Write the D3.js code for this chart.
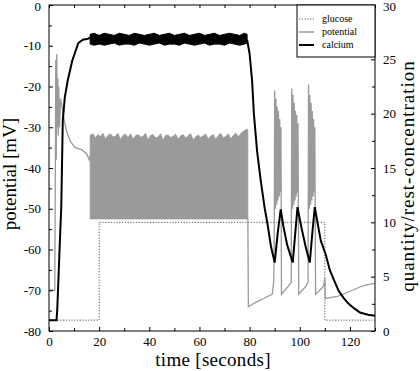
<!DOCTYPE html>
<html>
<head>
<meta charset="utf-8">
<script src="https://cdn.jsdelivr.net/npm/d3@7"></script>
<style>
  body { margin: 0; background: #fff; }
  svg text { font-family: "Liberation Serif", "DejaVu Serif", serif; fill: #000; }
</style>
</head>
<body>
<div id="chart"></div>
<script>
// axis ticks
var xTicks = [0, 20, 40, 60, 80, 100, 120];
var xMinor = [10, 30, 50, 70, 90, 110, 130];
var leftTicks = [0, -10, -20, -30, -40, -50, -60, -70, -80];
var leftMinor = [-5, -15, -25, -35, -45, -55, -65, -75];
var rightTicks = [0, 5, 10, 15, 20, 25, 30];
var rightMinor = [2.5, 7.5, 12.5, 17.5, 22.5, 27.5];

// glucose [t, quantity]
var glucose = [[0, 1], [20, 1], [20, 10], [110, 10], [110, 1], [130, 1]];

// calcium [t, quantity]
var calciumRise = [[0, 1], [3.0, 1], [3.3, 2], [3.8, 5], [4.3, 8], [4.9, 11.5], [5.5, 19.4], [6.3, 21.5],
  [7.5, 23.1], [9.3, 24.9], [11.7, 26.5], [13.5, 26.8], [15.5, 26.9], [16.4, 27]];
// calcium oscillation band [t, low, high]
var calciumBand = [[16.4, 26.4, 27.3], [18, 26.3, 27.4], [20, 26.4, 27.2], [22, 26.3, 27.4], [24, 26.4, 27.3],
  [26, 26.5, 27.2], [28, 26.3, 27.4], [30, 26.4, 27.3], [32, 26.4, 27.2], [34, 26.3, 27.4], [36, 26.5, 27.3],
  [38, 26.4, 27.2], [40, 26.3, 27.3], [42, 26.4, 27.4], [44, 26.5, 27.2], [46, 26.3, 27.3], [48, 26.4, 27.4],
  [50, 26.4, 27.2], [52, 26.3, 27.3], [54, 26.5, 27.4], [56, 26.4, 27.2], [58, 26.3, 27.3], [60, 26.4, 27.4],
  [62, 26.5, 27.2], [64, 26.3, 27.3], [66, 26.4, 27.4], [68, 26.4, 27.2], [70, 26.3, 27.3], [72, 26.5, 27.4],
  [74, 26.4, 27.3], [76, 26.3, 27.2], [78, 26.4, 27.4], [79, 26.5, 27.3]];
var calciumFall = [[79, 26.8], [80, 25.5], [81, 23], [81.7, 20], [83, 16.5], [84.4, 13.9], [86, 11.3], [87.1, 9.9],
  [88.5, 7.8], [90, 6.3], [91.2, 9], [92.4, 11.2], [93.5, 9.6], [95, 7.9], [97.2, 6.3], [98.2, 9], [99.1, 11.4],
  [100.5, 9.7], [102.3, 7.8], [104, 6.3], [105, 9], [106, 11.4], [107.2, 9.8], [108.4, 8.3], [110.4, 7.0],
  [112, 5.6], [113.6, 4.7], [115.5, 3.7], [117.6, 3.0], [119.5, 2.5], [121.6, 2.1], [124, 1.7], [127.2, 1.5], [130, 1.4]];

// potential [t, mV]
var potentialStart = [[0, -70], [2.3, -70], [2.5, -45], [2.7, -13.5], [2.9, -38], [3.1, -12], [3.3, -30], [3.5, -18],
  [3.7, -32], [3.9, -20], [4.2, -30], [4.6, -23], [5.2, -25], [6, -28], [7, -31], [8.5, -33.5], [10.5, -35],
  [13, -35.5], [15, -36.5], [16, -38], [16.4, -37]];
// potential spiking band: bottom and jagged top [t, top]
var potentialBandLow = -52.5;
var potentialBandTop = [[16.4, -32], [17.5, -31.6], [18.5, -32.6], [19.5, -31.8], [20.5, -32.3], [21.5, -31.5],
  [22.5, -32.8], [23.5, -32], [24.5, -31.6], [25.5, -32.4], [26.5, -32.2], [27.5, -31.5], [28.5, -33], [29.5, -32],
  [30.5, -31.7], [31.5, -32.5], [32.5, -31.6], [33.5, -32.9], [34.5, -32.1], [35.5, -31.8], [36.5, -32.4],
  [37.5, -32.3], [38.5, -31.5], [39.5, -33.1], [40.5, -32], [41.5, -31.8], [42.5, -32.6], [43.5, -32.4],
  [44.5, -31.6], [45.5, -33.2], [46.5, -32], [47.5, -31.9], [48.5, -32.5], [49.5, -32.2], [50.5, -31.7],
  [51.5, -32.9], [52.5, -32.1], [53.5, -31.8], [54.5, -32.7], [55.5, -32], [56.5, -31.6], [57.5, -33.1],
  [58.5, -32.3], [59.5, -31.9], [60.5, -32.5], [61.5, -32.1], [62.5, -31.7], [63.5, -32.8], [64.5, -32.2],
  [65.5, -31.8], [66.5, -33], [67.5, -32], [68.5, -31.5], [69.5, -32.6], [70.5, -32.3], [71.5, -31.6],
  [72.5, -32.9], [73.5, -32], [74.5, -31.4], [75.5, -32.4], [76.5, -31.5], [77.5, -31], [78.5, -30.6], [79.3, -30.5]];
var potentialEnd = [[79.3, -52.5], [79.5, -74], [81, -73.5], [83, -72.8], [85, -72.2], [87, -71.6], [89, -71],
  [89.6, -68], [89.8, -60], [90.0, -21], [90.3, -50], [90.5, -23], [90.8, -49], [91.0, -25], [91.3, -48],
  [91.5, -26], [91.8, -47], [92.0, -28], [92.3, -46], [92.5, -30], [92.7, -71], [94, -70], [95.5, -69],
  [96.6, -68], [96.8, -20.5], [97.1, -50], [97.3, -22], [97.6, -49], [97.8, -24], [98.1, -48], [98.3, -26],
  [98.6, -47], [98.8, -27], [99.1, -46], [99.3, -29], [99.6, -71], [101, -70], [102.5, -69], [103.3, -68],
  [103.5, -19.5], [103.8, -50], [104.0, -22], [104.3, -49], [104.5, -24], [104.8, -48], [105.0, -26],
  [105.3, -47], [105.5, -28], [105.8, -46], [106.0, -30], [106.3, -71], [108, -70], [109.5, -69], [110, -67],
  [110.2, -72], [112, -71.8], [115, -71.5], [118, -70.8], [121, -70], [124, -69.2], [127, -68.6], [130, -68.3]];

var legendItems = ["glucose", "potential", "calcium"];

var W = 420, H = 371;
var svg = d3.select('#chart').append('svg').attr('width', W).attr('height', H);

var x = d3.scaleLinear().domain([0, 130]).range([49, 375]);
var yL = d3.scaleLinear().domain([-80, 0]).range([331, 5]);
var yR = d3.scaleLinear().domain([0, 30]).range([331, 5]);

var plot = svg.append('g');

// glucose dotted
plot.append('path')
  .datum(glucose)
  .attr('d', d3.line().x(function(d){ return x(d[0]); }).y(function(d){ return yR(d[1]); }))
  .attr('fill', 'none').attr('stroke', '#555').attr('stroke-width', 1).attr('stroke-dasharray', '1.2,1.6');

// potential
var lineL = d3.line().x(function(d){ return x(d[0]); }).y(function(d){ return yL(d[1]); });
plot.append('path').datum(potentialStart).attr('d', lineL)
  .attr('fill', 'none').attr('stroke', '#9a9a9a').attr('stroke-width', 1.3);
plot.append('path').datum(potentialBandTop)
  .attr('d', d3.area().x(function(d){ return x(d[0]); }).y0(yL(potentialBandLow)).y1(function(d){ return yL(d[1]); }))
  .attr('fill', '#9a9a9a').attr('stroke', '#9a9a9a').attr('stroke-width', 0.8);
plot.append('path').datum(potentialEnd).attr('d', lineL)
  .attr('fill', 'none').attr('stroke', '#9a9a9a').attr('stroke-width', 1.3);

// calcium
var lineR = d3.line().x(function(d){ return x(d[0]); }).y(function(d){ return yR(d[1]); });
plot.append('path').datum(calciumRise).attr('d', lineR)
  .attr('fill', 'none').attr('stroke', '#000').attr('stroke-width', 2);
plot.append('path').datum(calciumBand)
  .attr('d', d3.area().x(function(d){ return x(d[0]); }).y0(function(d){ return yR(d[1]); }).y1(function(d){ return yR(d[2]); }))
  .attr('fill', '#000').attr('stroke', '#000').attr('stroke-width', 1);
plot.append('path').datum(calciumFall).attr('d', lineR)
  .attr('fill', 'none').attr('stroke', '#000').attr('stroke-width', 2);

// axes, ticks inward
function styleAxis(g){
  g.select('.domain').remove();
  g.selectAll('text').attr('font-family', '"Liberation Serif", serif').attr('font-size', 13);
  g.selectAll('line').attr('stroke', '#000');
}
svg.append('g').attr('transform', 'translate(0,331)')
  .call(d3.axisBottom(x).tickValues(xTicks).tickSize(-4).tickPadding(6).tickFormat(d3.format('d'))).call(styleAxis);
svg.append('g').attr('transform', 'translate(0,331)')
  .call(d3.axisBottom(x).tickValues(xMinor).tickSize(-3).tickFormat('')).call(styleAxis);
svg.append('g').attr('transform', 'translate(0,5)')
  .call(d3.axisTop(x).tickValues(xTicks.concat(xMinor)).tickSize(-3).tickFormat('')).call(styleAxis);
var gLeft = svg.append('g').attr('transform', 'translate(49,0)')
  .call(d3.axisLeft(yL).tickValues(leftTicks).tickSize(-4).tickPadding(8).tickFormat(function(d){ return String(d); })).call(styleAxis);
svg.append('g').attr('transform', 'translate(49,0)')
  .call(d3.axisLeft(yL).tickValues(leftMinor).tickSize(-3).tickFormat('')).call(styleAxis);
var gRight = svg.append('g').attr('transform', 'translate(375,0)')
  .call(d3.axisRight(yR).tickValues(rightTicks).tickSize(-4).tickPadding(8).tickFormat(d3.format('d'))).call(styleAxis);
svg.append('g').attr('transform', 'translate(375,0)')
  .call(d3.axisRight(yR).tickValues(rightMinor).tickSize(-3).tickFormat('')).call(styleAxis);

// keep the top labels inside the window
gLeft.selectAll('.tick text').filter(function(d){ return d === 0; }).attr('y', 1.5);
gRight.selectAll('.tick text').filter(function(d){ return d === 30; }).attr('y', 1.5);

// frame
svg.append('rect').attr('x', 49).attr('y', 5).attr('width', 326).attr('height', 326)
  .attr('fill', 'none').attr('stroke', '#000').attr('stroke-width', 1);

// axis titles
svg.append('text').attr('x', 213).attr('y', 366).attr('text-anchor', 'middle').attr('font-size', 19)
  .attr('letter-spacing', 0.3).text('time [seconds]');
svg.append('text').attr('transform', 'translate(16,174) rotate(-90)').attr('text-anchor', 'middle').attr('font-size', 19).text('potential [mV]');
svg.append('text').attr('transform', 'translate(414,176) rotate(-90)').attr('text-anchor', 'middle').attr('font-size', 19)
  .attr('letter-spacing', 1).text('quantity/rest-concentration');

// legend
var lg = svg.append('g');
lg.append('rect').attr('x', 297).attr('y', 5).attr('width', 78).attr('height', 52)
  .attr('fill', '#fff').attr('stroke', '#000').attr('stroke-width', 1);
var legendStroke = [{c: '#555', w: 1, dash: '1.2,1.6'}, {c: '#9a9a9a', w: 1.5, dash: null}, {c: '#000', w: 2, dash: null}];
legendItems.forEach(function(name, i){
  var yy = 19 + i * 13;
  lg.append('line').attr('x1', 299).attr('x2', 314).attr('y1', yy).attr('y2', yy)
    .attr('stroke', legendStroke[i].c).attr('stroke-width', legendStroke[i].w)
    .attr('stroke-dasharray', legendStroke[i].dash);
  lg.append('text').attr('x', 322).attr('y', yy + 3).attr('font-size', 10).text(name);
});
</script>
</body>
</html>
